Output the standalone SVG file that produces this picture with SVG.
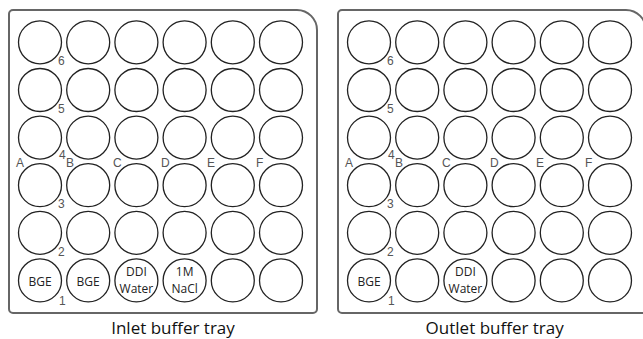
<svg xmlns="http://www.w3.org/2000/svg" width="643" height="339" viewBox="0 0 643 339">
<style>
.tray{fill:#fff;stroke:#666;stroke-width:2}
.w{fill:#fff;stroke:#222;stroke-width:1.3}
.n{font-family:"Liberation Sans",Arial,sans-serif;font-size:12px;fill:#555}
.t{font-family:"Open Sans","Liberation Sans",sans-serif;font-size:12px;fill:#222;text-anchor:middle}
.cap{font-family:"Open Sans","Liberation Sans",sans-serif;font-size:17px;fill:#111;text-anchor:middle}
</style>
<rect width="643" height="339" fill="#fff"/>
<defs>
<g id="grid">
<path class="tray" d="M13,10 H297 A20,20 0 0 1 317,30 V309 A4,4 0 0 1 313,313 H13 A4,4 0 0 1 9,309 V14 A4,4 0 0 1 13,10 Z"/>
<g class="w">
<circle cx="40" cy="42.3" r="21.5"/><circle cx="88.2" cy="42.3" r="21.5"/><circle cx="136.4" cy="42.3" r="21.5"/><circle cx="184.6" cy="42.3" r="21.5"/><circle cx="232.8" cy="42.3" r="21.5"/><circle cx="281" cy="42.3" r="21.5"/>
<circle cx="40" cy="90" r="21.5"/><circle cx="88.2" cy="90" r="21.5"/><circle cx="136.4" cy="90" r="21.5"/><circle cx="184.6" cy="90" r="21.5"/><circle cx="232.8" cy="90" r="21.5"/><circle cx="281" cy="90" r="21.5"/>
<circle cx="40" cy="137.6" r="21.5"/><circle cx="88.2" cy="137.6" r="21.5"/><circle cx="136.4" cy="137.6" r="21.5"/><circle cx="184.6" cy="137.6" r="21.5"/><circle cx="232.8" cy="137.6" r="21.5"/><circle cx="281" cy="137.6" r="21.5"/>
<circle cx="40" cy="185.2" r="21.5"/><circle cx="88.2" cy="185.2" r="21.5"/><circle cx="136.4" cy="185.2" r="21.5"/><circle cx="184.6" cy="185.2" r="21.5"/><circle cx="232.8" cy="185.2" r="21.5"/><circle cx="281" cy="185.2" r="21.5"/>
<circle cx="40" cy="232.8" r="21.5"/><circle cx="88.2" cy="232.8" r="21.5"/><circle cx="136.4" cy="232.8" r="21.5"/><circle cx="184.6" cy="232.8" r="21.5"/><circle cx="232.8" cy="232.8" r="21.5"/><circle cx="281" cy="232.8" r="21.5"/>
<circle cx="40" cy="280.4" r="21.5"/><circle cx="88.2" cy="280.4" r="21.5"/><circle cx="136.4" cy="280.4" r="21.5"/><circle cx="184.6" cy="280.4" r="21.5"/><circle cx="232.8" cy="280.4" r="21.5"/><circle cx="281" cy="280.4" r="21.5"/>
</g>
<g class="n">
<text x="58" y="65">6</text><text x="58" y="113">5</text><text x="59" y="159">4</text><text x="58" y="208">3</text><text x="58" y="256">2</text><text x="59" y="305">1</text>
<text x="16" y="167">A</text><text x="66" y="167">B</text><text x="113" y="167">C</text><text x="161" y="167">D</text><text x="207" y="167">E</text><text x="256" y="167">F</text>
</g>
</g>
</defs>
<g id="inlet-tray">
<use href="#grid"/>
<g id="inlet-A1"><text class="t" x="40" y="286">BGE</text></g>
<g id="inlet-B1"><text class="t" x="88.2" y="286">BGE</text></g>
<g id="inlet-C1"><text class="t" x="136.4" y="276">DDI</text><text class="t" x="136.4" y="293">Water</text></g>
<g id="inlet-D1"><text class="t" x="184.6" y="276">1M</text><text class="t" x="184.6" y="293">NaCl</text></g>
<text class="cap" x="173" y="334">Inlet buffer tray</text>
</g>
<g id="outlet-tray">
<use href="#grid" x="329"/>
<g id="outlet-A1"><text class="t" x="369" y="286">BGE</text></g>
<g id="outlet-C1"><text class="t" x="465.4" y="276">DDI</text><text class="t" x="465.4" y="293">Water</text></g>
<text class="cap" x="494.7" y="334">Outlet buffer tray</text>
</g>
<g id="connectors"/>
</svg>
